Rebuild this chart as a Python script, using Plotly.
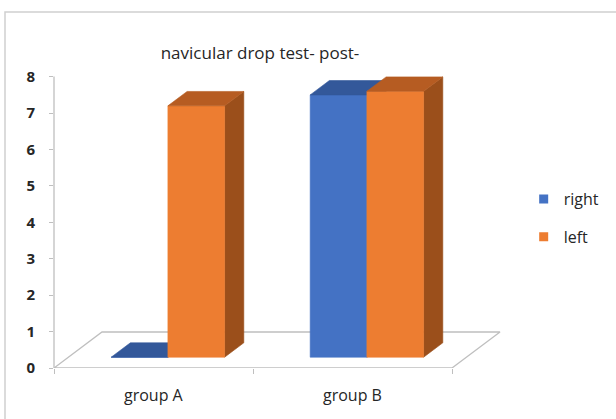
import plotly.graph_objects as go

# ---- data -------------------------------------------------------------
categories = ["group A", "group B"]
series_names = ["right", "left"]
right_vals = [0.0, 7.2]
left_vals = [6.9, 7.3]
y_ticks = [0, 1, 2, 3, 4, 5, 6, 7, 8]

# ---- styling ----------------------------------------------------------
FONT = "Open Sans"
TEXT = "#262626"
EDGE = "#BFBFBF"
faces = {
    "right": {"front": "#4472C4", "top": "#33589A", "side": "#2A4B82"},
    "left": {"front": "#ED7D31", "top": "#B65C22", "side": "#9B4F1B"},
}

# oblique projection of the floor depth (x in category units, y in value units)
DX = 0.2412
DY = 0.988
BAR_W = 0.285
D_FRONT, D_BACK = 0.3, 0.7

X_MAX = 456 / 199
Y_MAX = 8.4


def face(xs, ys, color):
    return go.Scatter(
        x=xs + [xs[0]], y=ys + [ys[0]], mode="lines", fill="toself",
        fillcolor=color, line=dict(color=color, width=0.6),
        hoverinfo="skip", showlegend=False,
    )


fig = go.Figure()

# floor outline
fig.add_trace(go.Scatter(
    x=[0, len(categories), len(categories) + DX, DX, 0],
    y=[0, 0, DY, DY, 0],
    mode="lines", line=dict(color=EDGE, width=1.3),
    hoverinfo="skip", showlegend=False,
))

# 3-D style columns
values = {"right": right_vals, "left": left_vals}
ddx = (D_BACK - D_FRONT) * DX
ddy = (D_BACK - D_FRONT) * DY
for gi, _cat in enumerate(categories):
    for si, name in enumerate(series_names):
        v = values[name][gi]
        c = faces[name]
        fx = gi + 0.5 - BAR_W + si * BAR_W + D_FRONT * DX
        fy = D_FRONT * DY
        # right side
        fig.add_trace(face(
            [fx + BAR_W, fx + BAR_W + ddx, fx + BAR_W + ddx, fx + BAR_W],
            [fy, fy + ddy, fy + v + ddy, fy + v], c["side"]))
        # front
        fig.add_trace(face(
            [fx, fx + BAR_W, fx + BAR_W, fx],
            [fy, fy, fy + v, fy + v], c["front"]))
        # top
        fig.add_trace(face(
            [fx, fx + BAR_W, fx + BAR_W + ddx, fx + ddx],
            [fy + v, fy + v, fy + v + ddy, fy + v + ddy], c["top"]))

# legend entries
for gi, name in enumerate(series_names):
    fig.add_trace(go.Scatter(
        x=[None], y=[None], mode="markers", name=name, legendgroup=name,
        marker=dict(symbol="square", size=9, color=faces[name]["front"]),
    ))

# category labels under the floor
for gi, cat in enumerate(categories):
    fig.add_annotation(
        x=gi + 0.5, xref="x", y=-27 / 306, yref="paper",
        text=cat, showarrow=False, xanchor="center", yanchor="middle",
        font=dict(family=FONT, size=16, color=TEXT),
    )

fig.update_layout(
    width=616, height=419,
    margin=dict(l=54, r=106, t=62, b=51, autoexpand=False),
    paper_bgcolor="white", plot_bgcolor="white",
    title=dict(
        text="navicular drop test- post-", x=260 / 616, y=1 - 53 / 419,
        xref="container", yref="container", xanchor="center", yanchor="middle",
        font=dict(family=FONT, size=17, color=TEXT),
    ),
    xaxis=dict(
        range=[0, X_MAX], tickvals=[0, 1, 2], ticktext=["", "", ""],
        ticks="outside", ticklen=5, tickcolor=EDGE, tickwidth=1.3,
        showline=False, showgrid=False, zeroline=False, fixedrange=True,
    ),
    yaxis=dict(
        range=[0, Y_MAX], tickvals=y_ticks,
        ticks="outside", ticklen=4, tickcolor=EDGE, tickwidth=1.3,
        ticklabelstandoff=11,
        showline=False, showgrid=False, zeroline=False, fixedrange=True,
        tickfont=dict(family=FONT, size=15, color=TEXT, weight="bold"),
    ),
    legend=dict(
        x=1.03, y=0.49, xanchor="left", yanchor="middle",
        traceorder="grouped", tracegroupgap=14,
        font=dict(family=FONT, size=16, color=TEXT),
        bgcolor="rgba(0,0,0,0)", itemwidth=30,
    ),
    shapes=[
        # value axis line
        dict(type="line", xref="paper", yref="y", x0=0, x1=0, y0=0, y1=8,
             line=dict(color=EDGE, width=1.3)),
        # chart frame
        dict(type="rect", xref="paper", yref="paper",
             x0=(5 - 54) / 456, x1=1.6, y0=-0.5, y1=(368 - 12) / 306,
             line=dict(color="#D0D0D0", width=1.5), layer="below"),
    ],
)

fig.write_html("out.html")
